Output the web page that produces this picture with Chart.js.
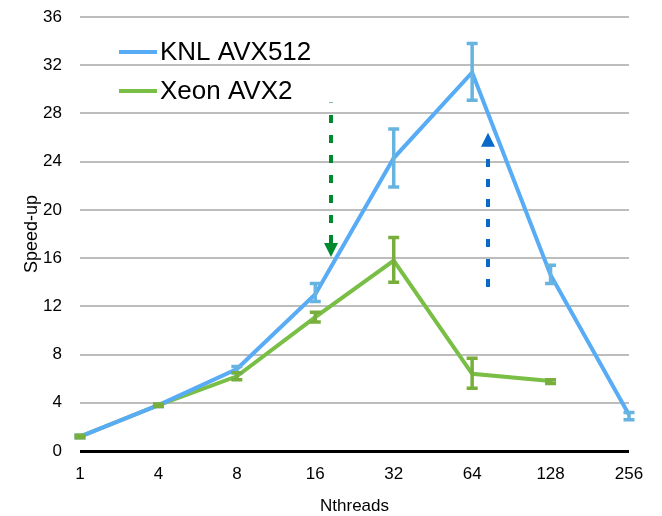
<!DOCTYPE html>
<html>
<head>
<meta charset="utf-8">
<script src="https://cdn.jsdelivr.net/npm/chart.js@4.4.0/dist/chart.umd.min.js"></script>
<style>
    html, body { margin: 0; padding: 0; background: #ffffff; }
    #wrap { width: 662px; height: 516px; }
</style>
</head>
<body>
<div id="wrap"><canvas id="chartSpeedup" width="662" height="516"></canvas></div>
<script>
// Categories and tick labels
const threads = ['1', '4', '8', '16', '32', '64', '128', '256'];
const yTicks = [0, 4, 8, 12, 16, 20, 24, 28, 32, 36];

// Series values (speed-up)
const knlSpeedup = [1.2, 3.8, 6.8, 13.0, 24.3, 31.4, 14.6, 3.0];
const knlLow = [1.1, 3.7, 6.5, 12.4, 21.9, 29.1, 13.9, 2.6];
const knlHigh = [1.3, 3.9, 7.0, 13.9, 26.7, 33.8, 15.4, 3.2];

const xeonSpeedup = [1.2, 3.8, 6.2, 11.1, 15.8, 6.4, 5.8, null];
const xeonLow = [1.1, 3.7, 5.9, 10.7, 14.0, 5.2, 5.6, null];
const xeonHigh = [1.3, 3.9, 6.5, 11.5, 17.7, 7.7, 5.9, null];

// Annotation arrows: x as category index, y as speed-up (tail -> tip)
const arrowX = [3.2, 5.2];
const arrowFrom = [28.9, 13.6];
const arrowTo = [16.1, 26.4];
const arrowColors = ['#008a30', '#0a68c6'];
const arrowDashFromHead = [true, false];

const FONT = "'Liberation Sans', Arial, Helvetica, sans-serif";

// Custom plugin: error bars with caps
const errorBars = {
    id: 'errorBars',
    afterDatasetsDraw(chart) {
        const { ctx, scales: { x, y } } = chart;
        ctx.save();
        chart.data.datasets.forEach(ds => {
            ctx.strokeStyle = ds.errorColor;
            ctx.lineWidth = 3.5;
            ds.low.forEach((lo, i) => {
                const hi = ds.high[i];
                if (lo === null || hi === null) return;
                const px = x.getPixelForValue(i);
                const pLo = y.getPixelForValue(lo);
                const pHi = y.getPixelForValue(hi);
                ctx.beginPath();
                ctx.moveTo(px, pLo);
                ctx.lineTo(px, pHi);
                ctx.moveTo(px - 5.5, pLo);
                ctx.lineTo(px + 5.5, pLo);
                ctx.moveTo(px - 5.5, pHi);
                ctx.lineTo(px + 5.5, pHi);
                ctx.stroke();
            });
        });
        ctx.restore();
    }
};

// Custom plugin: dashed arrows
const dashedArrows = {
    id: 'dashedArrows',
    afterDatasetsDraw(chart) {
        const { ctx, scales: { x, y } } = chart;
        ctx.save();
        arrowX.forEach((ax, i) => {
            const px = Math.round(x.getPixelForValue(ax));
            const pTail = y.getPixelForValue(arrowFrom[i]);
            const pTip = y.getPixelForValue(arrowTo[i]);
            const dir = pTip > pTail ? 1 : -1;
            const pBase = pTip - dir * 14;
            ctx.strokeStyle = arrowColors[i];
            ctx.fillStyle = arrowColors[i];
            ctx.lineWidth = 4;
            ctx.setLineDash([8, 12]);
            ctx.beginPath();
            if (arrowDashFromHead[i]) {
                ctx.moveTo(px, pBase);
                ctx.lineTo(px, pTail);
            } else {
                ctx.moveTo(px, pTail);
                ctx.lineTo(px, pBase);
            }
            ctx.stroke();
            ctx.setLineDash([]);
            ctx.beginPath();
            ctx.moveTo(px, pTip);
            ctx.lineTo(px - 7, pBase);
            ctx.lineTo(px + 7, pBase);
            ctx.closePath();
            ctx.fill();
        });
        ctx.restore();
    }
};

// Custom plugin: legend inside the plot area
const innerLegend = {
    id: 'innerLegend',
    afterDraw(chart) {
        const { ctx } = chart;
        ctx.save();
        ctx.font = '26px ' + FONT;
        ctx.textBaseline = 'middle';
        ctx.textAlign = 'left';
        chart.data.datasets.forEach((ds, i) => {
            const ly = 52 + i * 39;
            ctx.strokeStyle = ds.borderColor;
            ctx.lineWidth = 4;
            ctx.beginPath();
            ctx.moveTo(119, ly);
            ctx.lineTo(157, ly);
            ctx.stroke();
            ctx.fillStyle = '#000000';
            ctx.fillText(ds.label, 160, ly + 1);
        });
        ctx.restore();
    }
};

const graphArea = document.getElementById('chartSpeedup');

new Chart(graphArea, {
    type: 'line',
    data: {
        labels: threads,
        datasets: [{
            label: 'KNL AVX512',
            data: knlSpeedup,
            low: knlLow,
            high: knlHigh,
            borderColor: '#57acf5',
            errorColor: '#68b4e0',
            borderWidth: 4,
            pointRadius: 0,
            tension: 0,
        }, {
            label: 'Xeon AVX2',
            data: xeonSpeedup,
            low: xeonLow,
            high: xeonHigh,
            borderColor: '#79be45',
            errorColor: '#78ae3c',
            borderWidth: 4,
            pointRadius: 0,
            tension: 0,
        }]
    },
    options: {
        responsive: false,
        animation: false,
        layout: {
            padding: { top: 17, right: 33, left: 0, bottom: 0 }
        },
        plugins: {
            legend: { display: false },
            tooltip: { enabled: false },
        },
        scales: {
            x: {
                offset: false,
                grid: { display: false },
                border: { display: false },
                ticks: {
                    color: '#000000',
                    font: { family: FONT, size: 17 },
                    padding: 5,
                    maxRotation: 0,
                },
                title: {
                    display: true,
                    text: 'Nthreads',
                    color: '#000000',
                    font: { family: FONT, size: 17 },
                    padding: { top: 0, bottom: -1 },
                },
                afterFit: scale => { scale.height = 65; },
            },
            y: {
                min: 0,
                max: 36,
                afterBuildTicks: scale => {
                    scale.ticks = yTicks.map(v => ({ value: v }));
                },
                grid: {
                    drawTicks: false,
                    color: ctx => ctx.tick && ctx.tick.value === 0 ? '#000000' : '#bdbdbd',
                    lineWidth: ctx => ctx.tick && ctx.tick.value === 0 ? 3 : 2,
                },
                border: { display: false },
                ticks: {
                    color: '#000000',
                    font: { family: FONT, size: 17 },
                    padding: 18,
                },
                title: {
                    display: true,
                    text: 'Speed-up',
                    color: '#000000',
                    font: { family: FONT, size: 18 },
                    padding: { top: 21, bottom: 0 },
                },
                afterFit: scale => {
                    scale.width = 80;
                    scale.paddingTop = 0;
                    scale.paddingBottom = 0;
                },
            }
        }
    },
    plugins: [errorBars, dashedArrows, innerLegend]
});
</script>
</body>
</html>
